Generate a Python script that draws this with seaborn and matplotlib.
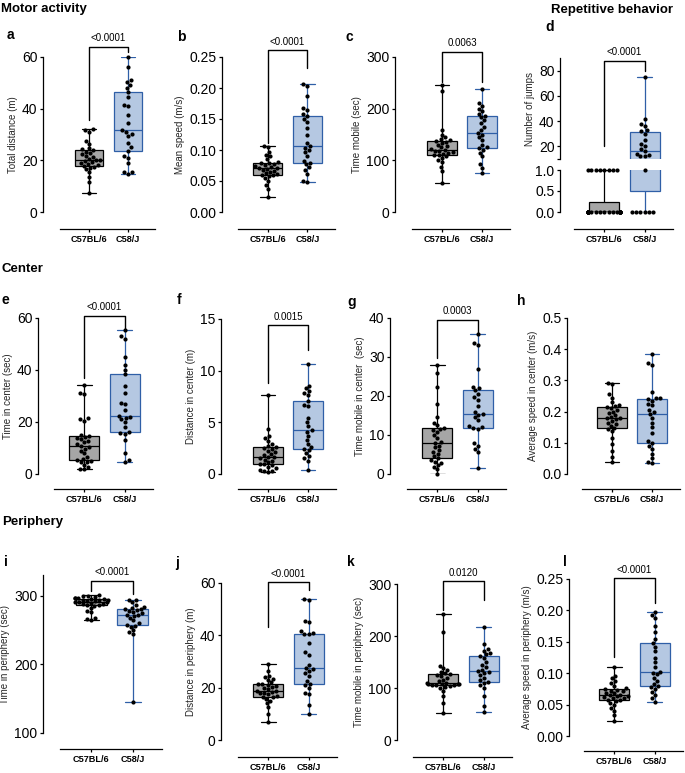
import warnings

import matplotlib

matplotlib.use("Agg")

import matplotlib.pyplot as plt
import numpy as np
import pandas as pd
import seaborn as sns

warnings.filterwarnings("ignore")

STRAINS = ["C57BL/6", "C58/J"]

# values, one list per strain and panel
total_distance_b6 = [7.5, 11.5, 13.5, 15.5, 16.5, 17.2, 17.6, 18.0, 18.3, 18.7, 19.0, 19.4, 19.7, 20.0, 20.2,
                     20.6, 21.2, 21.8, 22.3, 22.8, 23.4, 24.0, 24.3, 24.8, 26.5, 27.5, 31.0, 31.6, 32.0]
total_distance_c58 = [14.8, 15.3, 15.6, 18.9, 21.0, 21.6, 23.8, 25.0, 26.8, 29.5, 30.3, 31.0, 31.6, 34.6, 37.5,
                      41.0, 41.6, 44.6, 46.4, 48.0, 49.2, 50.4, 51.0, 56.0, 60.0]
mean_speed_b6 = [0.024, 0.037, 0.043, 0.050, 0.055, 0.058, 0.059, 0.060, 0.061, 0.063, 0.065, 0.066, 0.068, 0.070,
                 0.0707, 0.071, 0.073, 0.074, 0.076, 0.078, 0.079, 0.0797, 0.081, 0.085, 0.090, 0.092, 0.097, 0.105, 0.107]
mean_speed_c58 = [0.049, 0.050, 0.062, 0.068, 0.072, 0.077, 0.0787, 0.083, 0.090, 0.096, 0.100, 0.103, 0.1065, 0.112,
                  0.125, 0.136, 0.145, 0.150, 0.155, 0.158, 0.165, 0.168, 0.187, 0.204, 0.207]
time_mobile_b6 = [56, 80, 88, 96, 100, 105, 108, 110, 111, 113, 115, 116, 118, 119, 120, 122, 125, 127, 130, 133,
                  135, 137, 139, 141, 145, 150, 158, 235, 245]
time_mobile_c58 = [75, 85, 92, 108, 115, 120, 123, 125, 130, 140, 145, 150, 153, 158, 165, 172, 178, 183, 186, 190,
                   195, 200, 205, 210, 239]
jumps_b6 = [0] * 24 + [1] * 8
jumps_c58 = [0, 0, 0, 0, 0, 0, 1, 12, 12, 13, 14, 16, 18, 20, 22, 25, 30, 32, 33, 36, 38, 42, 75]
center_time_b6 = [1.8, 2.0, 2.5, 3.5, 4.5, 4.8, 5.0, 5.3, 5.8, 6.5, 8.0, 9.0, 9.8, 10.5, 10.9, 11.5, 12.3, 12.8, 13.3,
                  13.8, 14.2, 14.5, 15.0, 20.5, 21.0, 21.5, 30.8, 31.3, 34.1]
center_time_c58 = [4.7, 5.2, 8.2, 13.0, 15.3, 15.6, 16.0, 18.0, 20.0, 21.0, 21.5, 22.0, 22.3, 24.5, 26.8, 27.3, 31.3,
                   33.8, 38.3, 40.0, 42.0, 45.0, 52.0, 53.0, 55.3]
center_dist_b6 = [0.22, 0.25, 0.30, 0.40, 0.55, 0.70, 0.85, 0.93, 1.0, 1.15, 1.3, 1.4, 1.5, 1.6, 1.67, 1.8, 1.95, 2.1,
                  2.25, 2.4, 2.5, 2.57, 2.7, 2.9, 3.2, 3.5, 3.7, 4.4, 7.6]
center_dist_c58 = [0.39, 1.3, 1.5, 1.7, 2.0, 2.3, 2.41, 2.6, 2.9, 3.3, 3.7, 4.1, 4.25, 4.6, 5.0, 5.4, 6.6, 6.7, 7.08,
                   7.6, 7.8, 8.0, 8.3, 8.5, 10.6]
center_mobile_b6 = [0.0, 1.2, 1.8, 2.3, 2.8, 3.2, 3.6, 4.0, 4.5, 5.2, 5.6, 6.2, 6.8, 7.3, 7.85, 8.3, 9.2, 10.0, 10.8,
                    11.2, 11.6, 11.85, 12.6, 13.2, 14.5, 18.0, 22.2, 26.0, 28.0]
center_mobile_c58 = [1.5, 5.6, 6.4, 7.2, 7.9, 11.6, 11.7, 12.0, 12.2, 13.8, 14.6, 15.2, 15.5, 15.8, 17.5, 19.1, 19.8,
                     20.6, 21.5, 22.0, 22.4, 27.0, 33.0, 33.5, 35.8]
center_speed_b6 = [0.039, 0.055, 0.075, 0.095, 0.115, 0.137, 0.143, 0.148, 0.155, 0.160, 0.165, 0.170, 0.175, 0.178,
                   0.180, 0.183, 0.188, 0.195, 0.200, 0.205, 0.212, 0.215, 0.218, 0.222, 0.230, 0.245, 0.255, 0.288, 0.292]
center_speed_c58 = [0.034, 0.037, 0.050, 0.065, 0.080, 0.090, 0.100, 0.105, 0.130, 0.150, 0.165, 0.180, 0.192, 0.200,
                    0.205, 0.220, 0.225, 0.235, 0.239, 0.243, 0.245, 0.263, 0.350, 0.357, 0.386]
periph_time_b6 = [265.2, 266, 268, 276, 278, 282, 285, 286, 287, 288, 288.5, 289, 290, 290.3, 290.8, 291.5, 292, 293,
                  293.5, 294, 294.5, 295.2, 295.8, 296.5, 297, 298, 299, 300, 300.5]
periph_time_c58 = [144.4, 244, 247, 250, 255, 256, 257, 260, 264, 268, 270, 271.5, 272.5, 274, 276, 278, 279, 280,
                   280.7, 282, 284, 286, 290, 293, 294]
periph_dist_b6 = [7.0, 10.0, 12.5, 14.0, 15.0, 15.8, 16.3, 16.6, 17.0, 17.4, 17.8, 18.1, 18.4, 18.7, 18.9, 19.3, 19.8,
                  20.2, 20.6, 21.0, 21.3, 21.5, 22.0, 22.8, 23.5, 24.0, 24.5, 26.5, 29.0]
periph_dist_c58 = [9.8, 13.5, 17.5, 18.0, 20.0, 21.0, 21.5, 22.5, 24.5, 25.5, 26.5, 27.0, 27.6, 28.5, 32.5, 33.5, 37.0,
                   40.5, 40.7, 41.0, 41.5, 45.0, 45.5, 53.5, 53.9]
periph_mobile_b6 = [52.7, 72, 85, 95, 100, 102, 104, 105, 105.5, 106, 107, 107.5, 108, 108.5, 109, 110, 113, 116, 120,
                    123, 125, 126.5, 128, 131, 134, 138, 143, 207, 243]
periph_mobile_c58 = [54.6, 65, 85, 100, 105, 110, 111, 115, 120, 125, 128, 130, 132, 135, 140, 145, 150, 158, 162, 165,
                     168, 172, 175, 184, 218]
periph_speed_b6 = [0.0245, 0.033, 0.040, 0.045, 0.050, 0.053, 0.056, 0.0574, 0.058, 0.060, 0.061, 0.062, 0.063, 0.064,
                   0.0654, 0.066, 0.068, 0.069, 0.071, 0.072, 0.074, 0.0745, 0.076, 0.080, 0.085, 0.088, 0.092, 0.096,
                   0.1096]
periph_speed_c58 = [0.0548, 0.060, 0.065, 0.070, 0.075, 0.078, 0.080, 0.083, 0.088, 0.093, 0.098, 0.101, 0.1027, 0.110,
                    0.118, 0.125, 0.135, 0.142, 0.148, 0.155, 0.165, 0.175, 0.188, 0.193, 0.197]

P_VALUES = {"a": "<0.0001", "b": "<0.0001", "c": "0.0063", "d": "<0.0001", "e": "<0.0001", "f": "0.0015",
            "g": "0.0003", "i": "<0.0001", "j": "<0.0001", "k": "0.0120", "l": "<0.0001"}

FILLS = {"C57BL/6": "#a6a6a6", "C58/J": "#b5c8e2"}
EDGES = {"C57BL/6": "black", "C58/J": "#2f5fa7"}

W, H = 685, 773
PT = 0.72  # points per pixel at dpi 100

# panel: (data b6, data c58, (left, right, top, bottom) px, y-axis x, x-axis y, ylim, yticks, fmt, ylabel,
#         bracket (left leg, right leg, top) in data units)
PANELS = {
    "a": (total_distance_b6, total_distance_c58, (60, 155, 57, 212), 43, 229, (0, 60), [0, 20, 40, 60], "{:.0f}",
          "Total distance (m)", (35.6, 62, 63.9)),
    "b": (mean_speed_b6, mean_speed_c58, (238, 335, 57, 212), 222, 229, (0, 0.25),
          [0, 0.05, 0.10, 0.15, 0.20, 0.25], "{:.2f}", "Mean speed (m/s)", (0.111, 0.232, 0.261)),
    "c": (time_mobile_b6, time_mobile_c58, (412, 510, 57, 212), 395, 229, (0, 300), [0, 100, 200, 300], "{:.0f}",
          "Time mobile (sec)", (252, 252, 310)),
    "e": (center_time_b6, center_time_c58, (54, 153, 318, 474), 38, 489, (0, 60), [0, 20, 40, 60], "{:.0f}",
          "Time in center (sec)", (36.9, 55.4, 60.8)),
    "f": (center_dist_b6, center_dist_c58, (238, 336, 319, 474), 221, 489, (0, 15), [0, 5, 10, 15], "{:.0f}",
          "Distance in center (m)", (8.8, 12.0, 14.4)),
    "g": (center_mobile_b6, center_mobile_c58, (407, 506, 318, 474), 390, 489, (0, 40), [0, 10, 20, 30, 40],
          "{:.0f}", "Time mobile in center  (sec)", (29.7, 36.2, 39.5)),
    "h": (center_speed_b6, center_speed_c58, (582, 680, 318, 474), 567, 489, (0, 0.5),
          [0, 0.1, 0.2, 0.3, 0.4, 0.5], "{:.1f}", "Average speed in center (m/s)", None),
    "i": (periph_time_b6, periph_time_c58, (60, 162, 575, 733), 43, 749, (100, 330), [100, 200, 300], "{:.0f}",
          "Time in periphery (sec)", (307, 303, 321.7)),
    "j": (periph_dist_b6, periph_dist_c58, (238, 337, 583, 740), 221, 757, (0, 60), [0, 20, 40, 60], "{:.0f}",
          "Distance in periphery (m)", (43, 57.3, 60.3)),
    "k": (periph_mobile_b6, periph_mobile_c58, (413, 512, 584, 740), 397, 757, (0, 300), [0, 100, 200, 300],
          "{:.0f}", "Time mobile in periphery (sec)", (250, 269, 305.8)),
    "l": (periph_speed_b6, periph_speed_c58, (584, 683, 579, 736), 569, 751, (0, 0.25),
          [0, 0.05, 0.10, 0.15, 0.20, 0.25], "{:.2f}", "Average speed in periphery (m/s)", (0.126, 0.212, 0.2516)),
}

LETTERS = {"a": (7, 35), "b": (177, 37), "c": (345, 37), "d": (545, 27), "e": (1, 300), "f": (177, 300),
           "g": (347, 302), "h": (517, 301), "i": (4, 562), "j": (175, 563), "k": (347, 562), "l": (563, 562)}


def px_axes(fig, left, right, top, bottom):
    return fig.add_axes([left / W, 1 - bottom / H, (right - left) / W, (bottom - top) / H])


def long_frame(b6, c58):
    return pd.DataFrame({"strain": [STRAINS[0]] * len(b6) + [STRAINS[1]] * len(c58),
                         "value": list(b6) + list(c58)})


def draw_boxes(ax, df):
    for strain in STRAINS:
        sns.boxplot(data=df[df["strain"] == strain], x="strain", y="value", order=STRAINS,
                    color=FILLS[strain], linecolor=EDGES[strain], saturation=1, width=0.74,
                    whis=(0, 100), linewidth=0.9, fliersize=0, ax=ax)


def draw_points(ax, df):
    sns.swarmplot(data=df, x="strain", y="value", order=STRAINS, color="black", size=3,
                  linewidth=0, ax=ax, zorder=4, clip_on=False)


def finish(ax, ylim, yticks, labels, ylabel, left_gap, bottom_gap, show_x=True):
    ax.set_xlim(-0.75, 1.7)
    ax.set_ylim(*ylim)
    ax.set_yticks(yticks, labels, fontsize=6.8, fontweight="bold")
    ax.set_ylabel(ylabel, fontsize=7, labelpad=3)
    ax.set_xlabel("")
    ax.spines[["top", "right"]].set_visible(False)
    ax.spines["left"].set_position(("outward", left_gap * PT))
    ax.tick_params(axis="y", length=2.4, width=0.9, pad=1.5)
    if show_x:
        ax.spines["bottom"].set_position(("outward", bottom_gap * PT))
        ax.set_xticks([0, 1], STRAINS, fontsize=6.6, fontweight="bold")
        ax.tick_params(axis="x", length=2.4, width=0.9, pad=2)
    else:
        ax.spines["bottom"].set_visible(False)
        ax.set_xticks([])


def bracket(ax, text, legs):
    left_y, right_y, top_y = legs
    ax.plot([0, 0, 1, 1], [left_y, top_y, top_y, right_y], color="black", lw=1.0, clip_on=False, zorder=5)
    ax.annotate(text, xy=(0.5, top_y), xytext=(0, 2.5), textcoords="offset points", ha="center", va="bottom",
                fontsize=7, annotation_clip=False)


sns.set_style("ticks")
plt.rcParams["font.family"] = ["Liberation Sans", "DejaVu Sans"]
plt.rcParams["axes.edgecolor"] = "black"
plt.rcParams["axes.linewidth"] = 0.9
plt.rcParams["xtick.color"] = "black"
plt.rcParams["ytick.color"] = "black"
plt.rcParams["text.color"] = "black"

fig = plt.figure(figsize=(W / 100, H / 100), dpi=100, facecolor="white")

for key, (b6, c58, rect, y_axis_x, x_axis_y, ylim, yticks, fmt, ylabel, legs) in PANELS.items():
    ax = px_axes(fig, *rect)
    df = long_frame(b6, c58)
    draw_boxes(ax, df)
    draw_points(ax, df)
    finish(ax, ylim, yticks, [fmt.format(t) for t in yticks], ylabel, rect[0] - y_axis_x, x_axis_y - rect[3])
    if legs is not None:
        bracket(ax, P_VALUES[key], legs)

# panel d: broken y axis
jumps = long_frame(jumps_b6, jumps_c58)
ax_top = px_axes(fig, 574, 673, 58, 159)
ax_low = px_axes(fig, 574, 673, 170, 212)
draw_boxes(ax_top, jumps)
draw_boxes(ax_low, jumps)
draw_points(ax_top, jumps[jumps["value"] >= 10])
draw_points(ax_low, jumps[jumps["value"] <= 1])
finish(ax_top, (10, 90), [10, 20, 40, 60, 80], ["", "20", "40", "60", "80"], "Number of jumps", 14, 0,
       show_x=False)
finish(ax_low, (0, 1.0), [0, 0.5, 1.0], ["0.0", "0.5", "1.0"], "", 14, 17)
bracket(ax_top, P_VALUES["d"], (20, 80, 87.8))

for letter, (x, y) in LETTERS.items():
    fig.text(x / W, 1 - y / H, letter, fontsize=10, fontweight="bold", va="center", ha="left")

for title, x, y, ha in [("Motor activity", 1, 9, "left"), ("Repetitive behavior", 612, 10, "center"),
                        ("Center", 2, 269, "left"), ("Periphery", 2, 522, "left")]:
    fig.text(x / W, 1 - y / H, title, fontsize=9.5, fontweight="bold", va="center", ha=ha)

fig.savefig("out.png", dpi=100, facecolor="white")
